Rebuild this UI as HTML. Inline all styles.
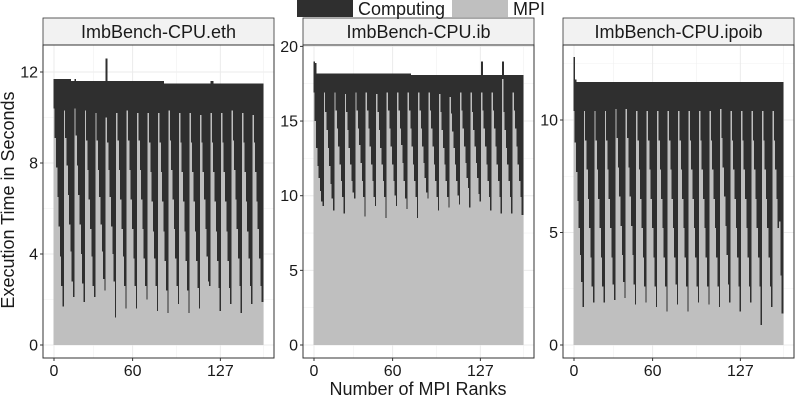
<!DOCTYPE html>
<html><head><meta charset="utf-8">
<style>
body{margin:0;background:#fff;}
svg{display:block;font-family:"Liberation Sans",sans-serif;}
.bar{shape-rendering:crispEdges;}
</style></head>
<body>
<svg id="chart" width="800" height="400" viewBox="0 0 800 400"></svg>
<script>
const categories = ["ImbBench-CPU.eth","ImbBench-CPU.ib","ImbBench-CPU.ipoib"];
const xTicks = [0,60,127];
const ethMPI = [
10.4,9.1,7.8,6.5,5.2,3.9,2.6,1.7, 10.3,9.1,7.9,6.6,5.3,4.1,2.8,2.1, 10.4,9.2,7.9,6.6,5.3,4.0,2.7,1.9, 10.3,9.0,7.7,6.4,5.1,3.9,2.6,2.1,
10.2,9.0,7.7,6.5,5.3,4.1,2.9,2.4, 10.0,8.9,7.7,6.5,5.2,4.0,2.8,1.2, 10.2,9.0,7.7,6.4,5.1,3.9,2.6,1.6, 10.3,9.0,7.7,6.4,5.1,3.8,2.6,1.6,
10.2,9.0,7.7,6.4,5.1,3.8,2.6,2.0, 10.2,8.9,7.6,6.3,5.0,3.8,2.6,1.5, 10.2,8.9,7.6,6.3,5.0,3.7,2.4,1.4, 10.3,9.0,7.7,6.4,5.1,3.8,2.6,1.8,
10.2,8.9,7.6,6.3,5.0,3.7,2.4,1.4, 10.2,8.9,7.6,6.3,5.0,3.7,2.5,1.6, 10.1,8.9,7.6,6.4,5.1,3.9,2.8,2.6, 10.2,8.9,7.6,6.3,5.0,3.7,2.5,1.5,
10.2,8.9,7.6,6.3,5.0,3.7,2.5,1.8, 10.3,9.0,7.7,6.4,5.1,3.8,2.6,1.4, 10.2,8.9,7.6,6.3,5.0,3.8,2.6,1.8, 10.1,8.9,7.6,6.3,5.1,3.8,2.6,1.9];
const ethTotal = [
11.7,11.7,11.7,11.7,11.7,11.7,11.7,11.7, 11.7,11.7,11.7,11.7,11.7,11.6,11.6,11.6, 11.7,11.6,11.6,11.6,11.6,11.6,11.6,11.6, 11.6,11.6,11.6,11.6,11.6,11.6,11.6,11.6,
11.6,11.6,11.6,11.6,11.6,11.6,11.6,11.6, 12.6,11.6,11.6,11.6,11.6,11.6,11.6,11.6, 11.6,11.6,11.6,11.6,11.6,11.6,11.6,11.6, 11.6,11.6,11.6,11.6,11.6,11.6,11.6,11.6,
11.6,11.6,11.6,11.6,11.6,11.6,11.6,11.6, 11.6,11.6,11.6,11.6,11.6,11.6,11.6,11.6, 11.6,11.6,11.6,11.6,11.5,11.5,11.5,11.5, 11.5,11.5,11.5,11.5,11.5,11.5,11.5,11.5,
11.5,11.5,11.5,11.5,11.5,11.5,11.5,11.5, 11.5,11.5,11.5,11.5,11.5,11.5,11.5,11.5, 11.5,11.5,11.5,11.5,11.5,11.5,11.5,11.5, 11.6,11.6,11.5,11.5,11.5,11.5,11.5,11.5,
11.5,11.5,11.5,11.5,11.5,11.5,11.5,11.5, 11.5,11.5,11.5,11.5,11.5,11.5,11.5,11.5, 11.5,11.5,11.5,11.5,11.5,11.5,11.5,11.5, 11.5,11.5,11.5,11.5,11.5,11.5,11.5,11.5];
const ibMPI = [
16.9,15.0,13.2,12.0,11.2,10.3,9.6,9.3, 16.9,15.6,14.4,13.2,12.0,10.8,9.8,9.0, 16.9,15.7,14.5,13.3,12.1,11.0,9.9,8.8, 16.8,15.6,14.4,13.2,12.1,11.0,10.2,9.8,
16.9,15.7,14.5,13.4,12.2,11.0,9.9,8.6, 16.9,15.7,14.5,13.3,12.1,11.0,9.9,9.3, 16.8,15.6,14.4,13.2,12.1,11.0,9.9,8.5, 16.9,15.7,14.5,13.3,12.1,11.0,10.0,9.3,
16.9,15.7,14.5,13.4,12.2,11.0,9.8,9.1, 16.9,15.7,14.5,13.3,12.1,11.0,9.9,8.5, 16.9,15.7,14.5,13.3,12.2,11.2,10.2,9.8, 16.9,15.7,14.5,13.3,12.1,11.0,9.9,9.0,
16.8,15.6,14.4,13.2,12.1,11.0,9.9,9.2, 16.6,15.5,14.3,13.2,12.1,11.0,10.0,9.4, 16.9,15.7,14.5,13.3,12.2,11.2,10.5,9.2, 16.9,15.6,14.4,13.3,12.2,11.2,10.1,9.6,
16.9,15.7,14.5,13.3,12.1,11.0,9.9,9.0, 16.9,15.7,14.5,13.3,12.1,11.0,9.9,8.8, 17.8,15.6,14.4,13.2,12.1,11.0,9.9,8.8, 16.9,15.7,14.5,13.3,12.1,11.0,9.9,8.7];
const ibTotal = [
19.0,18.9,18.2,18.2,18.2,18.2,18.2,18.2, 18.2,18.2,18.2,18.2,18.2,18.2,18.2,18.2, 18.2,18.2,18.2,18.2,18.2,18.2,18.2,18.2, 18.2,18.2,18.2,18.2,18.2,18.2,18.2,18.2,
18.2,18.2,18.2,18.2,18.2,18.2,18.2,18.2, 18.2,18.2,18.2,18.2,18.2,18.2,18.2,18.2, 18.2,18.2,18.2,18.2,18.2,18.2,18.2,18.2, 18.2,18.2,18.2,18.2,18.2,18.2,18.2,18.2,
18.2,18.2,18.2,18.2,18.2,18.2,18.2,18.2, 18.2,18.2,18.1,18.1,18.1,18.1,18.1,18.1, 18.1,18.1,18.1,18.1,18.1,18.1,18.1,18.1, 18.1,18.1,18.1,18.1,18.1,18.1,18.1,18.1,
18.1,18.1,18.1,18.1,18.1,18.1,18.1,18.1, 18.1,18.1,18.1,18.1,18.1,18.1,18.1,18.1, 18.1,18.1,18.1,18.1,18.1,18.1,18.1,18.1, 18.1,18.1,18.1,18.1,18.1,18.1,18.1,18.1,
19.0,18.1,18.1,18.1,18.1,18.1,18.1,18.1, 18.1,18.1,18.1,18.1,18.1,18.1,18.1,18.1, 19.0,18.1,18.1,18.1,18.1,18.1,18.1,18.1, 18.1,18.1,18.1,18.1,18.1,18.1,18.1,18.1];
const ipoibMPI = [
10.4,9.0,7.7,6.4,5.2,4.0,2.8,1.7, 10.4,9.1,7.8,6.5,5.2,3.9,2.6,1.9, 10.4,9.1,7.8,6.5,5.2,3.9,2.6,1.9, 10.4,9.1,7.8,6.5,5.2,3.9,2.7,2.0,
10.5,9.2,7.9,6.6,5.3,4.0,2.8,2.1, 10.5,9.2,7.9,6.6,5.3,4.0,2.7,1.8, 10.4,9.1,7.8,6.5,5.2,3.9,2.6,1.9, 10.4,9.1,7.8,6.5,5.2,3.9,2.6,1.7,
10.4,9.1,7.8,6.5,5.2,3.9,2.6,1.5, 10.4,9.1,7.8,6.5,5.2,3.9,2.7,1.8, 10.4,9.1,7.8,6.5,5.2,3.9,2.6,1.5, 10.4,9.1,7.8,6.5,5.2,3.9,2.6,1.9,
10.4,9.1,7.8,6.5,5.2,3.9,2.6,1.8, 10.4,9.1,7.8,6.5,5.2,3.9,2.6,1.7, 10.5,9.2,7.9,6.6,5.3,4.0,2.7,1.9, 10.4,9.1,7.8,6.5,5.2,3.9,2.6,1.5,
10.4,9.1,7.8,6.5,5.2,3.9,2.6,1.9, 10.4,9.1,7.8,6.5,5.2,3.9,2.6,0.9, 10.4,9.1,7.8,6.5,5.2,3.9,2.6,1.7, 10.4,9.1,7.8,6.5,5.2,5.5,3.1,1.4];
const ipoibTotal = [
12.8,11.8,11.7,11.7,11.7,11.7,11.7,11.7, 11.7,11.7,11.7,11.7,11.7,11.7,11.7,11.7, 11.7,11.7,11.7,11.7,11.7,11.7,11.7,11.7, 11.7,11.7,11.7,11.7,11.7,11.7,11.7,11.7,
11.7,11.7,11.7,11.7,11.7,11.7,11.7,11.7, 11.7,11.7,11.7,11.7,11.7,11.7,11.7,11.7, 11.7,11.7,11.7,11.7,11.7,11.7,11.7,11.7, 11.7,11.7,11.7,11.7,11.7,11.7,11.7,11.7,
11.7,11.7,11.7,11.7,11.7,11.7,11.7,11.7, 11.7,11.7,11.7,11.7,11.7,11.7,11.7,11.7, 11.7,11.7,11.7,11.7,11.7,11.7,11.7,11.7, 11.7,11.7,11.7,11.7,11.7,11.7,11.7,11.7,
11.7,11.7,11.7,11.7,11.7,11.7,11.7,11.7, 11.7,11.7,11.7,11.7,11.7,11.7,11.7,11.7, 11.7,11.7,11.7,11.7,11.7,11.7,11.7,11.7, 11.7,11.7,11.7,11.7,11.7,11.7,11.7,11.7,
11.7,11.7,11.7,11.7,11.7,11.7,11.7,11.7, 11.7,11.7,11.7,11.7,11.7,11.7,11.7,11.7, 11.7,11.7,11.7,11.7,11.7,11.7,11.7,11.7, 11.7,11.7,11.7,11.7,11.7,11.7,11.7,11.7];
const ethYTicks = [0,4,8,12];
const ibYTicks = [0,5,10,15,20];
const ipoibYTicks = [0,5,10];

const NS="http://www.w3.org/2000/svg";
const svg=document.getElementById('chart');
function mk(tag,attrs,parent){const e=document.createElementNS(NS,tag);for(const k in attrs)e.setAttribute(k,attrs[k]);(parent||svg).appendChild(e);return e;}

const yTop=45,yBot=358,y0=345;
const panels=[
 {name:categories[0],mpi:ethMPI,tot:ethTotal,yt:ethYTicks,x0:43,x1:274,ymax:(y0-yTop)/22.75,slug:'eth'},
 {name:categories[1],mpi:ibMPI,tot:ibTotal,yt:ibYTicks,x0:303,x1:534,ymax:(y0-yTop)/14.93,slug:'ib'},
 {name:categories[2],mpi:ipoibMPI,tot:ipoibTotal,yt:ipoibYTicks,x0:563,x1:794,ymax:(y0-yTop)/22.5,slug:'ipoib'}
];
panels.forEach(p=>{
  const g=mk('g',{});
  
  
  const ppu=(y0-yTop)/p.ymax;
  const ys=v=>y0-v*ppu;
  const xs=v=>p.x0+11+v*1.31;
  const strip=mk('rect',{x:p.x0,y:18,width:p.x1-p.x0,height:yTop-18,fill:'#f2f2f2',stroke:'#333','stroke-width':0.8},g);
  
  
  const st=mk('text',{x:(p.x0+p.x1)/2,y:38,'text-anchor':'middle','font-size':18,fill:'#1a1a1a'},g);
  st.textContent=p.name;
  
  
  const step=p.yt[1]-p.yt[0];
  for(let v=step/2;v<p.ymax;v+=step){
    mk('line',{x1:p.x0,x2:p.x1,y1:ys(v),y2:ys(v),stroke:'#f0f0f0','stroke-width':0.6},g);
  }
  p.yt.forEach(v=>{
    mk('line',{x1:p.x0,x2:p.x1,y1:ys(v),y2:ys(v),stroke:'#ebebeb','stroke-width':1},g);
    mk('line',{x1:p.x0-3,x2:p.x0,y1:ys(v),y2:ys(v),stroke:'#333','stroke-width':1},g);
    const t=mk('text',{x:p.x0-5,y:ys(v)+5.5,'text-anchor':'end','font-size':16,fill:'#1a1a1a'},g);
    t.textContent=v;
    
    
  });
  [30,93.5,160].forEach(v=>mk('line',{x1:xs(v),x2:xs(v),y1:yTop,y2:yBot,stroke:'#f0f0f0','stroke-width':0.6},g));
  xTicks.forEach(v=>{
    mk('line',{x1:xs(v),x2:xs(v),y1:yTop,y2:yBot,stroke:'#ebebeb','stroke-width':1},g);
    mk('line',{x1:xs(v),x2:xs(v),y1:yBot,y2:yBot+3,stroke:'#333','stroke-width':1},g);
    const t=mk('text',{x:xs(v),y:yBot+18,'text-anchor':'middle','font-size':16,fill:'#1a1a1a'},g);
    t.textContent=v;
    
    
  });
  p.tot.forEach((tv,i)=>{
    const x=xs(i)-0.66;
    const mv=p.mpi[i];
    const b=mk('rect',{class:'bar',x:x,y:ys(tv),width:1.8,height:ys(0)-ys(tv),fill:'#2f2f2f'},g);
    
    
    const m=mk('rect',{class:'bar',x:x,y:ys(mv),width:1.8,height:ys(0)-ys(mv),fill:'#bfbfbf'},g);
    
    
  });
  mk('rect',{x:p.x0,y:yTop,width:p.x1-p.x0,height:yBot-yTop,fill:'none',stroke:'#333','stroke-width':1},g);
});
const leg=document.createElementNS(NS,'g');


leg.innerHTML='<rect x="297" y="0" width="56" height="17" fill="#2f2f2f"/>'+
'<text x="358" y="15" font-size="18" fill="#1a1a1a">Computing</text>'+
'<rect x="452" y="0" width="56" height="17" fill="#bfbfbf"/>'+
'<text x="513" y="15" font-size="18" fill="#1a1a1a">MPI</text>'+
'<text x="418" y="395" text-anchor="middle" font-size="18" fill="#1a1a1a">Number of MPI Ranks</text>'+
'<text transform="translate(14,200) rotate(-90)" text-anchor="middle" font-size="18" fill="#1a1a1a">Execution Time in Seconds</text>';
svg.appendChild(leg);
</script>
</body></html>
